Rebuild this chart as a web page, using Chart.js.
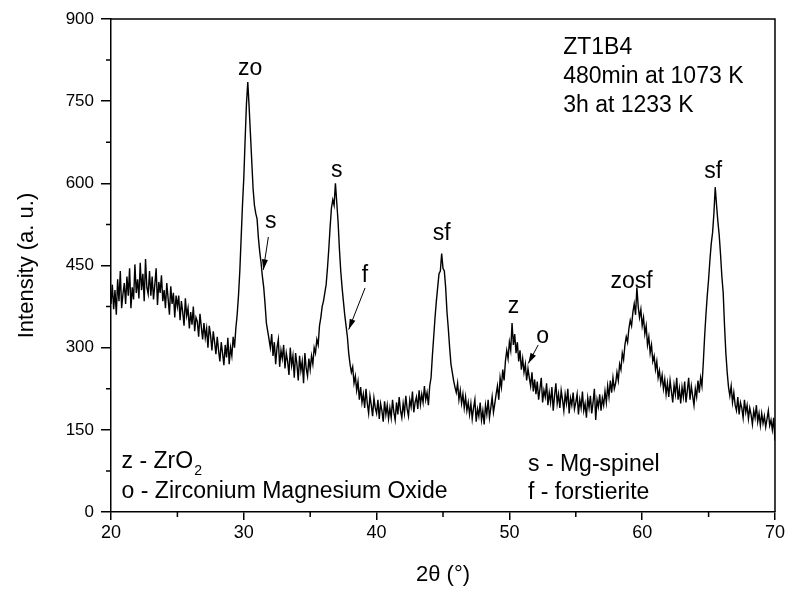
<!DOCTYPE html>
<html>
<head>
<meta charset="utf-8">
<script src="https://cdn.jsdelivr.net/npm/chart.js@4.4.0/dist/chart.umd.min.js"></script>
<style>
  html, body { margin: 0; padding: 0; background: #fff; }
</style>
</head>
<body>
<canvas id="xrdChart" width="787" height="589"></canvas>
<script>
// 2-theta scan: first angle and step of the diffractometer (degrees)
const angleStart = 20;
const angleStep = 0.1;

// Intensity, one row per degree (20.0 ... 69.9), then 70.0
const intensity = [
  380, 415, 370, 405, 360, 425, 385, 440, 372, 398,   // 20
  418, 380, 430, 395, 445, 372, 410, 388, 452, 400,   // 21
  425, 390, 455, 405, 435, 385, 462, 410, 398, 440,   // 22
  395, 430, 388, 415, 445, 378, 420, 400, 432, 385,   // 23
  405, 372, 418, 390, 360, 412, 380, 400, 355, 395,   // 24
  375, 395, 350, 385, 365, 340, 390, 358, 372, 335,   // 25
  365, 342, 375, 330, 355, 348, 320, 362, 338, 315,   // 26
  345, 318, 335, 300, 340, 322, 295, 330, 310, 288,   // 27
  320, 295, 275, 310, 290, 268, 305, 282, 318, 270,   // 28
  300, 285, 320, 300, 335, 360, 395, 440, 500, 560,   // 29
  610, 680, 745, 785, 740, 690, 640, 590, 560, 545,   // 30
  535, 500, 475, 455, 430, 410, 380, 345, 330, 315,   // 31
  300, 325, 285, 310, 270, 300, 315, 265, 295, 280,   // 32
  305, 262, 290, 275, 250, 300, 268, 285, 245, 290,   // 33
  270, 240, 285, 258, 275, 235, 290, 262, 248, 280,   // 34
  260, 285, 270, 300, 290, 315, 305, 340, 355, 375,   // 35
  385, 400, 415, 445, 480, 520, 555, 570, 560, 600,   // 36
  565, 530, 480, 440, 410, 385, 360, 340, 320, 290,   // 37
  270, 255, 265, 235, 248, 222, 238, 205, 228, 200,   // 38
  215, 190, 225, 198, 180, 212, 195, 175, 208, 190,   // 39
  180, 205, 170, 198, 185, 165, 202, 178, 195, 170,   // 40
  190, 172, 205, 182, 168, 200, 178, 210, 185, 172,   // 41
  198, 180, 212, 188, 175, 205, 192, 220, 182, 200,   // 42
  210, 188, 222, 196, 215, 200, 230, 205, 218, 195,   // 43
  230, 245, 285, 320, 355, 385, 410, 435, 440, 472,   // 44
  445, 440, 410, 365, 335, 300, 270, 255, 240, 228,   // 45
  218, 235, 205, 222, 198, 215, 190, 210, 185, 200,   // 46
  178, 198, 170, 190, 205, 165, 188, 175, 200, 168,   // 47
  185, 160, 195, 178, 205, 172, 190, 210, 182, 198,   // 48
  215, 230, 205, 245, 228, 260, 240, 275, 295, 280,   // 49
  310, 295, 345, 305, 325, 290, 310, 275, 295, 260,   // 50
  280, 255, 270, 240, 262, 245, 230, 255, 220, 242,   // 51
  215, 238, 205, 225, 245, 200, 222, 210, 235, 195,   // 52
  218, 200, 228, 185, 212, 235, 198, 215, 190, 222,   // 53
  205, 185, 215, 198, 225, 180, 208, 195, 218, 188,   // 54
  200, 215, 178, 205, 190, 220, 185, 198, 172, 208,   // 55
  190, 212, 180, 200, 225, 168, 205, 192, 215, 185,   // 56
  208, 195, 220, 200, 230, 210, 240, 218, 245, 225,   // 57
  235, 255, 240, 270, 260, 290, 278, 305, 320, 310,   // 58
  335, 350, 340, 365, 380, 360, 410, 375, 355, 370,   // 59
  340, 355, 325, 340, 305, 320, 290, 305, 275, 285,   // 60
  260, 275, 245, 258, 235, 250, 225, 242, 215, 235,   // 61
  210, 240, 220, 200, 232, 215, 245, 205, 225, 198,   // 62
  228, 210, 238, 200, 222, 245, 205, 230, 212, 195,   // 63
  225, 210, 240, 218, 245, 230, 272, 320, 360, 395,   // 64
  425, 460, 490, 510, 545, 593, 560, 530, 505, 470,   // 65
  430, 400, 340, 290, 255, 228, 212, 230, 200, 218,   // 66
  195, 185, 210, 178, 200, 190, 172, 205, 182, 195,   // 67
  170, 190, 178, 160, 185, 172, 195, 165, 180, 158,   // 68
  180, 162, 175, 155, 170, 185, 158, 168, 150, 172,   // 69
  130                                                 // 70
];

const xMajorTicks = [20, 30, 40, 50, 60, 70];
const xMinorTicks = [25, 35, 45, 55, 65];
const yMajorTicks = [0, 150, 300, 450, 600, 750, 900];
const yMinorTicks = [75, 225, 375, 525, 675, 825];

// phase letters above the reflections (angle, intensity)
const peakLabels = [
  { text: 'zo',   x: 30.47, y: 810 },
  { text: 's',    x: 32.03, y: 530 },
  { text: 's',    x: 37.0,  y: 624 },
  { text: 'f',    x: 39.13, y: 432 },
  { text: 'sf',   x: 44.9,  y: 509 },
  { text: 'z',    x: 50.3,  y: 375 },
  { text: 'o',    x: 52.5,  y: 321 },
  { text: 'zosf', x: 59.2,  y: 420 },
  { text: 'sf',   x: 65.35, y: 621 }
];

// arrows from a label down to the shoulder they mark
const peakArrows = [
  { from: [31.85, 502], to: [31.47, 442] },
  { from: [39.13, 409], to: [37.9, 333] },
  { from: [52.17, 305], to: [51.42, 271] }
];

const sampleInfo = ['ZT1B4', '480min at 1073 K', '3h at 1233 K'];

const points = intensity.map((v, i) => ({
  x: +(angleStart + i * angleStep).toFixed(1),
  y: v
}));

const font = "'Liberation Sans', Arial, sans-serif";

// draws frame, minor ticks, the peak letters, arrows and the text notes
const annotate = {
  id: 'annotate',
  afterDraw(chart) {
    const ctx = chart.ctx;
    const xs = chart.scales.x;
    const ys = chart.scales.y;
    const area = chart.chartArea;

    ctx.save();
    ctx.strokeStyle = '#000';
    ctx.lineWidth = 1.5;
    ctx.beginPath();
    ctx.moveTo(area.left, area.top);
    ctx.lineTo(area.right, area.top);
    ctx.lineTo(area.right, area.bottom);
    ctx.stroke();

    // minor ticks, pointing outwards
    ctx.beginPath();
    xMinorTicks.forEach(t => {
      const px = xs.getPixelForValue(t);
      ctx.moveTo(px, area.bottom);
      ctx.lineTo(px, area.bottom + 5);
    });
    yMinorTicks.forEach(t => {
      const py = ys.getPixelForValue(t);
      ctx.moveTo(area.left, py);
      ctx.lineTo(area.left - 5, py);
    });
    ctx.stroke();

    ctx.fillStyle = '#000';
    ctx.font = '23px ' + font;
    ctx.textAlign = 'center';
    ctx.textBaseline = 'middle';
    peakLabels.forEach(l => {
      ctx.fillText(l.text, xs.getPixelForValue(l.x), ys.getPixelForValue(l.y));
    });

    ctx.lineWidth = 1;
    peakArrows.forEach(a => {
      const x1 = xs.getPixelForValue(a.from[0]), y1 = ys.getPixelForValue(a.from[1]);
      const x2 = xs.getPixelForValue(a.to[0]), y2 = ys.getPixelForValue(a.to[1]);
      const ang = Math.atan2(y2 - y1, x2 - x1);
      ctx.beginPath();
      ctx.moveTo(x1, y1);
      ctx.lineTo(x2, y2);
      ctx.stroke();
      ctx.beginPath();
      ctx.moveTo(x2, y2);
      ctx.lineTo(x2 - 11 * Math.cos(ang - 0.28), y2 - 11 * Math.sin(ang - 0.28));
      ctx.lineTo(x2 - 11 * Math.cos(ang + 0.28), y2 - 11 * Math.sin(ang + 0.28));
      ctx.closePath();
      ctx.fill();
    });

    // sample description, top right
    ctx.textAlign = 'left';
    sampleInfo.forEach((line, i) => {
      ctx.fillText(line, xs.getPixelForValue(54.05), ys.getPixelForValue(848 - i * 53));
    });

    // phase key, bottom
    let px = xs.getPixelForValue(20.8);
    const py = ys.getPixelForValue(91);
    ctx.fillText('z - ZrO', px, py);
    const w = ctx.measureText('z - ZrO').width;
    ctx.font = '14px ' + font;
    ctx.fillText('2', px + w + 1, py + 9);
    ctx.font = '23px ' + font;
    ctx.fillText('o - Zirconium Magnesium Oxide', px, ys.getPixelForValue(38));
    px = xs.getPixelForValue(51.4);
    ctx.fillText('s - Mg-spinel', px, ys.getPixelForValue(86));
    ctx.fillText('f - forstierite', px, ys.getPixelForValue(36));
    ctx.restore();
  }
};

new Chart(document.getElementById('xrdChart'), {
  type: 'line',
  data: {
    datasets: [{
      data: points,
      borderColor: '#000',
      borderWidth: 1.4,
      pointRadius: 0,
      fill: false,
      tension: 0
    }]
  },
  options: {
    responsive: false,
    animation: false,
    devicePixelRatio: 1,
    layout: { padding: { left: 0, right: 12, top: 19, bottom: 0 } },
    plugins: { legend: { display: false }, tooltip: { enabled: false } },
    scales: {
      x: {
        type: 'linear',
        min: 20,
        max: 70,
        afterBuildTicks: s => { s.ticks = xMajorTicks.map(v => ({ value: v })); },
        afterFit: s => { s.height = 77; },
        ticks: { color: '#000', font: { family: font, size: 18 }, padding: 2, maxRotation: 0 },
        grid: { drawOnChartArea: false, drawTicks: true, tickLength: 8, color: '#000', lineWidth: 1.5 },
        border: { display: true, color: '#000', width: 1.5 },
        title: { display: true, text: '2\u03B8 (\u00B0)', color: '#000', font: { family: font, size: 22 }, padding: { top: 0, bottom: 1 } }
      },
      y: {
        min: 0,
        max: 900,
        afterBuildTicks: s => { s.ticks = yMajorTicks.map(v => ({ value: v })); },
        afterFit: s => { s.width = 111; },
        ticks: { color: '#000', font: { family: font, size: 17 }, padding: 7 },
        grid: { drawOnChartArea: false, drawTicks: true, tickLength: 10, color: '#000', lineWidth: 1.5 },
        border: { display: true, color: '#000', width: 1.5 },
        title: { display: true, text: 'Intensity (a. u.)', color: '#000', font: { family: font, size: 22 }, padding: { top: 14, bottom: 0 } }
      }
    }
  },
  plugins: [annotate]
});
</script>
</body>
</html>
